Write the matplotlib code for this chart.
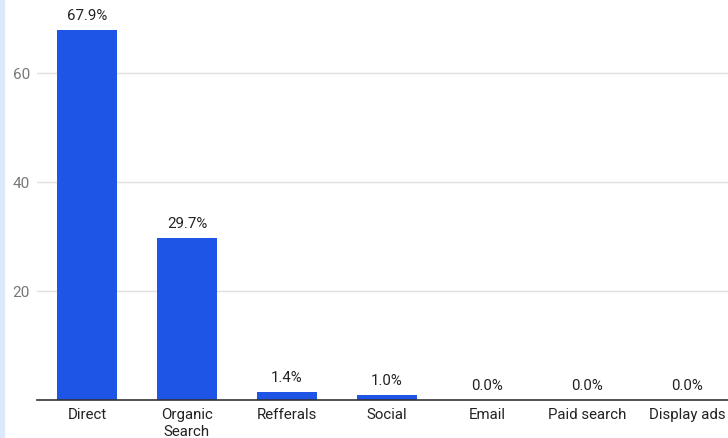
import matplotlib
matplotlib.use("Agg")
import matplotlib.pyplot as plt
from matplotlib.patches import Rectangle

categories = ["Direct", "Organic\nSearch", "Refferals", "Social", "Email", "Paid search", "Display ads"]
values = [67.9, 29.7, 1.4, 1.0, 0.0, 0.0, 0.0]
labels = ["67.9%", "29.7%", "1.4%", "1.0%", "0.0%", "0.0%", "0.0%"]
yticks = [20, 40, 60]

plt.rcParams['font.family'] = ['Roboto', 'DejaVu Sans']

W, H = 728, 438
fig = plt.figure(figsize=(W/100, H/100), dpi=100)
ax = fig.add_axes([37/W, (H-400)/H, 700/W, 400/H])

x = list(range(len(categories)))
ax.bar(x, values, width=0.6, color="#1f55e6", zorder=3)
for xi, v, lab in zip(x, values, labels):
    ax.annotate(lab, (xi, v), xytext=(0, 5), textcoords="offset points",
                ha="center", va="bottom", fontsize=10.8, color="#222222")

ax.set_xlim(-0.5, len(categories) - 0.5)
ax.set_ylim(0, 73.4)
ax.set_yticks(yticks)
ax.set_yticklabels([str(t) for t in yticks])
ax.set_xticks(x)
ax.set_xticklabels(categories, fontsize=10.8, color="#222222", linespacing=1.3)
ax.tick_params(axis="y", length=0, labelsize=11, labelcolor="#777777", pad=5)
ax.tick_params(axis="x", length=0, pad=5.5)
ax.grid(axis="y", color="#e0e0e0", linewidth=1, zorder=0)
for s in ["top", "right", "left"]:
    ax.spines[s].set_visible(False)
ax.spines["bottom"].set_color("#333333")
ax.spines["bottom"].set_linewidth(1.2)
ax.spines["bottom"].set_zorder(4)

fig.patches.append(Rectangle((0, 0), 4/W, 1, transform=fig.transFigure,
                             color="#dce8fb", zorder=0))

fig.savefig("out.png", dpi=100)
